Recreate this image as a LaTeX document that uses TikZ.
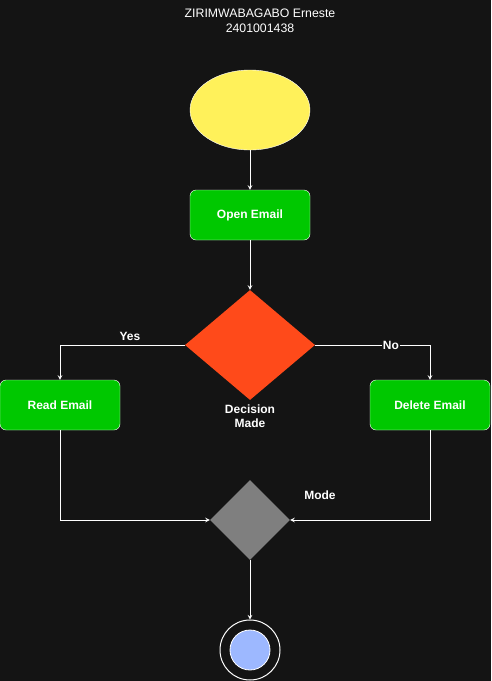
\documentclass[tikz,border=0pt]{standalone}
\usepackage{fontspec}
\setmainfont{Liberation Sans}
\usetikzlibrary{shapes.geometric, arrows}
\definecolor{bgdark}{HTML}{141414}
\definecolor{startyellow}{HTML}{FFF15A}
\definecolor{procgreen}{HTML}{00C800}
\definecolor{decred}{HTML}{FF4A1A}
\definecolor{mergegray}{HTML}{7F7F7F}
\definecolor{endblue}{HTML}{9DB8FF}
\tikzstyle{startnode} = [ellipse, minimum width=120pt, minimum height=80pt, inner sep=0pt, draw=white, fill=startyellow]
\tikzstyle{process} = [rectangle, rounded corners=6pt, minimum width=120pt, minimum height=50pt, text centered, draw=white, fill=procgreen, text=white, font=\bfseries\fontsize{12}{14}\selectfont]
\tikzstyle{decision} = [diamond, inner sep=0pt, draw=none]
\tikzstyle{lbl} = [text=white, font=\bfseries\fontsize{12}{14}\selectfont, align=center]
\tikzstyle{arrow} = [line width=1pt, white, ->, >=stealth]

\begin{document}
\begin{tikzpicture}[x=1pt, y=-1pt]
\fill [bgdark] (0,0) rectangle (491,681);
\useasboundingbox (0,0) rectangle (491,681);
\node (title) [text=white, font=\fontsize{12.3}{15}\selectfont, align=center] at (260,21) {ZIRIMWABAGABO Erneste\\2401001438};
\node (start) [startnode] at (250,110) {};
\node (open) [process] at (250,215) {Open Email};
\node (decide) [decision, fill=decred, minimum width=130pt, minimum height=110pt] at (250,345) {};
\node (decidetxt) [lbl] at (250,416) {Decision\\Made};
\node (read) [process] at (60,405) {Read Email};
\node (delete) [process] at (430,405) {Delete Email};
\node (merge) [decision, fill=mergegray, minimum width=80pt, minimum height=80pt] at (250,520) {};
\node (modetxt) [lbl] at (320,495) {Mode};
\node (endouter) [circle, draw=white, line width=1pt, fill=bgdark, minimum size=60pt] at (250,650) {};
\node (endinner) [circle, draw=white, line width=0.8pt, fill=endblue, minimum size=40pt] at (250,650) {};
\draw [arrow] (start) -- (open);
\draw [arrow] (open) -- (decide);
\draw [arrow] (decide.west) -| node[lbl, pos=0.22, above=1pt] {Yes} (read.north);
\draw [arrow] (decide.east) -| node[lbl, pos=0.33, fill=bgdark, inner sep=1pt] {No} (delete.north);
\draw [arrow] (read.south) |- (merge.west);
\draw [arrow] (delete.south) |- (merge.east);
\draw [arrow] (merge) -- (endouter);
\end{tikzpicture}
\end{document}
